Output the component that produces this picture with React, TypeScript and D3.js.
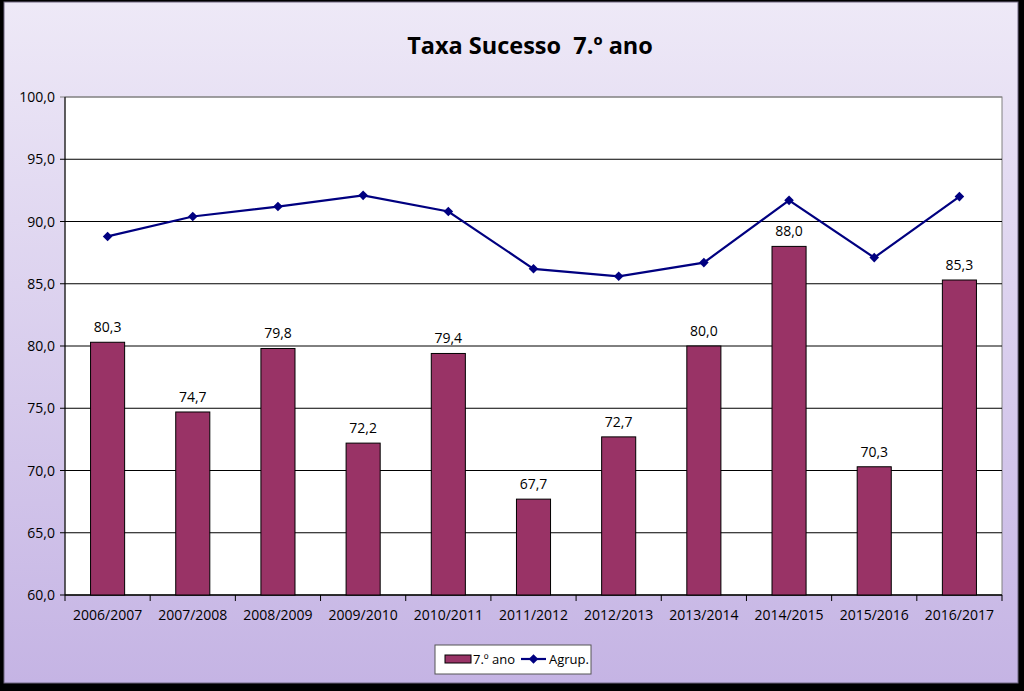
import * as d3 from "d3";

const categorias = [
  "2006/2007", "2007/2008", "2008/2009", "2009/2010", "2010/2011", "2011/2012",
  "2012/2013", "2013/2014", "2014/2015", "2015/2016", "2016/2017",
];
const ano7 = [80.3, 74.7, 79.8, 72.2, 79.4, 67.7, 72.7, 80.0, 88.0, 70.3, 85.3];
const agrup = [88.8, 90.4, 91.2, 92.1, 90.8, 86.2, 85.6, 86.7, 91.7, 87.1, 92.0];
const yTicks = [60, 65, 70, 75, 80, 85, 90, 95, 100];

const W = 1024;
const H = 691;
const plot = { left: 65, right: 1002, top: 97, bottom: 595 };
const font = "Open Sans, Noto Sans, sans-serif";
const fs = 14;
const fmt = (v: number) => v.toFixed(1).replace(".", ",");

export default function App() {
  const x = d3.scaleBand<string>()
    .domain(categorias)
    .range([plot.left, plot.right]);
  const y = d3.scaleLinear([60, 100], [plot.bottom, plot.top]);

  const barW = x.bandwidth() * 0.4;
  const cx = (c: string) => (x(c) ?? 0) + x.bandwidth() / 2;

  const line = d3.line<number>((d, i) => cx(categorias[i]), (d) => y(d));
  // square turned 45° gives the marker's even diamond
  const marker = d3.symbol(d3.symbolSquare, 46);

  return (
    <svg width={W} height={H} style={{ position: "absolute", left: 0, top: 0 }}>
      <defs>
        <linearGradient id="bg" x1="0" y1="0" x2="0" y2="1">
          <stop offset="0" stopColor="#eee9f7" />
          <stop offset="1" stopColor="#c5b4e4" />
        </linearGradient>
      </defs>
      <rect x={0} y={0} width={W} height={H} fill="#000" />
      <rect x={4} y={2} width={1014} height={681} fill="url(#bg)" stroke="#6f6680" strokeWidth={1} />

      <text x={530} y={54} textAnchor="middle" fontFamily={font} fontWeight="bold" fontSize={23.5} fill="#000" style={{ whiteSpace: "pre" }}>
        {"Taxa Sucesso  7.º ano"}
      </text>

      <rect x={plot.left} y={plot.top} width={plot.right - plot.left} height={plot.bottom - plot.top} fill="#fff" stroke="#808080" />

      {yTicks.map((t) => (
        <g key={t}>
          <line x1={plot.left - 5} x2={plot.right} y1={y(t)} y2={y(t)} stroke={t === 100 ? "#808080" : "#000"} strokeWidth={1} />
          <text x={55} y={y(t) + 5} textAnchor="end" fontFamily={font} fontSize={fs} fill="#000">
            {fmt(t)}
          </text>
        </g>
      ))}

      <line x1={plot.left} x2={plot.left} y1={plot.top} y2={plot.bottom} stroke="#000" />
      <line x1={plot.left} x2={plot.right} y1={plot.bottom} y2={plot.bottom} stroke="#000" />
      {[...categorias.map((c) => x(c) ?? 0), plot.right].map((px, i) => (
        <line key={i} x1={px} x2={px} y1={plot.bottom} y2={plot.bottom + 6} stroke="#000" />
      ))}
      {categorias.map((c) => (
        <text key={c} x={cx(c)} y={620} textAnchor="middle" fontFamily={font} fontSize={fs} fill="#000">
          {c}
        </text>
      ))}

      {categorias.map((c, i) => (
        <g key={c}>
          <rect x={cx(c) - barW / 2} y={y(ano7[i])} width={barW} height={y(60) - y(ano7[i])} fill="#993366" stroke="#000" strokeWidth={1} />
          <text x={cx(c)} y={y(ano7[i]) - 10} textAnchor="middle" fontFamily={font} fontSize={fs} fill="#000">
            {fmt(ano7[i])}
          </text>
        </g>
      ))}

      <path d={line(agrup) ?? ""} fill="none" stroke="#000080" strokeWidth={2.2} />
      {agrup.map((v, i) => (
        <path key={i} d={marker() ?? ""} transform={`translate(${cx(categorias[i])},${y(v)}) rotate(45)`} fill="#000080" />
      ))}

      <g>
        <rect x={435} y={645} width={156} height={29} fill="#fff" stroke="#555" />
        <rect x={445} y={655} width={26} height={8} fill="#993366" stroke="#000" />
        <text x={473} y={664} fontFamily={font} fontSize={13} fill="#000">7.º ano</text>
        <line x1={521} x2={546} y1={659} y2={659} stroke="#000080" strokeWidth={2.2} />
        <path d={marker() ?? ""} transform="translate(533.5,659) rotate(45)" fill="#000080" />
        <text x={549} y={664} fontFamily={font} fontSize={13} fill="#000">Agrup.</text>
      </g>
    </svg>
  );
}
